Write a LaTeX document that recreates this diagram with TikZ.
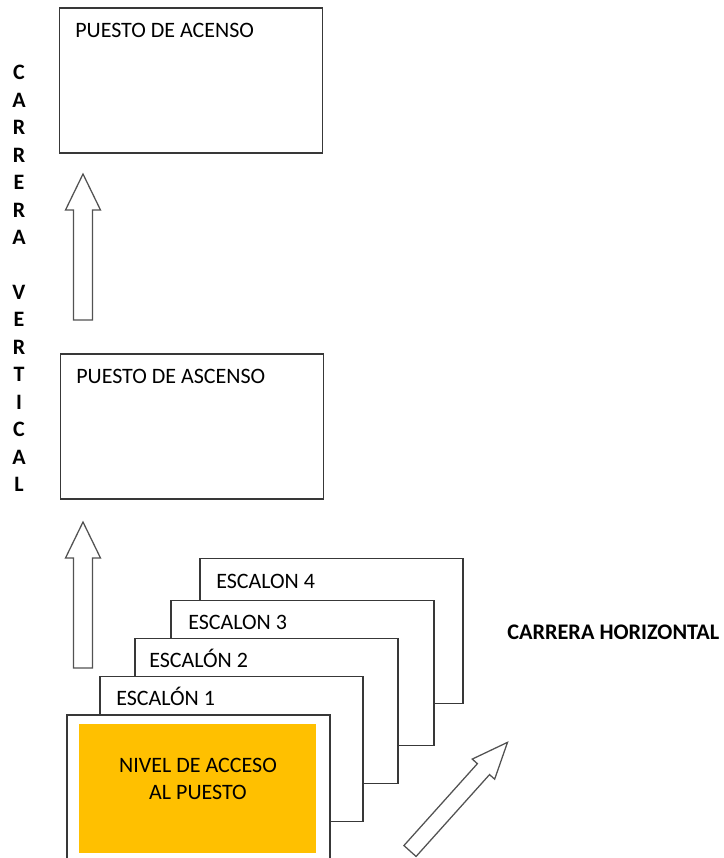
\documentclass[tikz,border=0pt]{standalone}
\usepackage{fontspec}
\setmainfont{Carlito}
\definecolor{accessorange}{HTML}{FFC000}
\begin{document}
\begin{tikzpicture}[x=0.75pt,y=-0.75pt,
  card/.style={draw=black!78, line width=1.2pt, fill=white, inner sep=0pt,
    minimum width=197pt, minimum height=108.75pt},
  cardtext/.style={anchor=base west, inner sep=0pt,
    font=\fontsize{16.5pt}{20.4pt}\selectfont},
  arrowline/.style={draw=black!68, line width=0.95pt, fill=white, line join=miter},
  blockarrow/.pic={\path[arrowline] (0,-9.5) -- (110,-9.5) -- (110,-17.5) -- (146,0)
      -- (110,17.5) -- (110,9.5) -- (0,9.5) -- cycle;}]
\useasboundingbox (0,0) rectangle (724,858);
\clip (0,0) rectangle (724,858);

% vertical career label
\node[align=center, inner sep=0pt,
  font=\fontsize{16.5pt}{20.6pt}\selectfont\bfseries] (vertical) at (19,278.5)
  {C\\A\\R\\R\\E\\R\\A\\[20.6pt]V\\E\\R\\T\\I\\C\\A\\L};

% promotion posts
\node[card] (acenso) at (191,80.5) {};
\node[cardtext] (acensotxt) at (75,37) {PUESTO DE ACENSO};
\node[card] (ascenso) at (192,426.5) {};
\node[cardtext] (ascensotxt) at (76,383) {PUESTO DE ASCENSO};

% upward arrows
\pic[rotate=90] (uparrowtop) at (83,320) {blockarrow};
\pic[rotate=90] (uparrowlow) at (83,668) {blockarrow};

% stacked steps, back to front
\node[card] (esc4) at (331.5,631) {};
\node[cardtext] (esc4txt) at (216,588) {ESCALON 4};
\node[card] (esc3) at (302.5,673) {};
\node[cardtext] (esc3txt) at (188,629) {ESCALON 3};
\node[card] (esc2) at (266.5,711) {};
\node[cardtext] (esc2txt) at (149,667) {ESCALÓN 2};
\node[card] (esc1) at (231.5,749) {};
\node[cardtext] (esc1txt) at (116,705) {ESCALÓN 1};
\node[card, minimum height=112.5pt] (front) at (198.5,790) {};
\node[fill=accessorange, inner sep=0pt, minimum width=177.75pt,
  minimum height=96.75pt] (acceso) at (197.5,788.5) {};
\node[align=center, inner sep=0pt,
  font=\fontsize{16.5pt}{20.3pt}\selectfont] (accesotxt) at (198,778.5)
  {NIVEL DE ACCESO\\AL PUESTO};

% horizontal career
\node[cardtext, font=\fontsize{16.7pt}{20.4pt}\selectfont\bfseries]
  (horizontal) at (507,639) {CARRERA HORIZONTAL};
\pic[rotate=48.1, yscale=0.86] (diagarrow) at (410,851) {blockarrow};
\end{tikzpicture}
\end{document}
